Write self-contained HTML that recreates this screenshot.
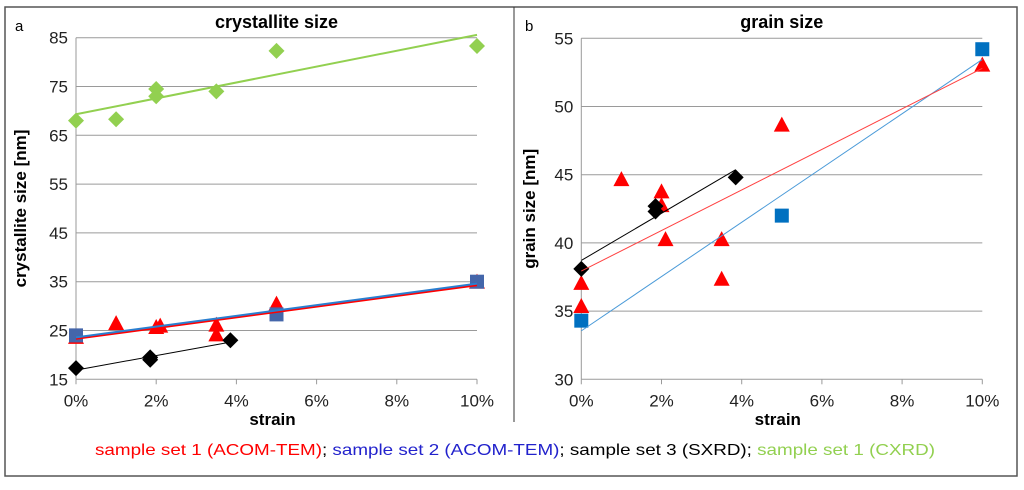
<!DOCTYPE html>
<html><head><meta charset="utf-8"><style>
html,body{margin:0;padding:0;background:#fff;}
svg{display:block;font-family:"Liberation Sans",Arial,sans-serif;}
</style></head><body>
<svg id="fig" width="1024" height="490" viewBox="0 0 1024 490" xmlns="http://www.w3.org/2000/svg">
<rect x="5" y="7" width="1012" height="469" fill="#fff" stroke="#555" stroke-width="1.5"/>
<line x1="514" y1="7" x2="514" y2="422" stroke="#333" stroke-width="1"/>
<g id="chartA"></g>
<g id="chartB"></g>
<text x="515" y="455" text-anchor="middle" font-size="16" textLength="840" lengthAdjust="spacingAndGlyphs"><tspan fill="#ff0000">sample set 1 (ACOM-TEM)</tspan><tspan fill="#000">; </tspan><tspan fill="#2222cc">sample set 2 (ACOM-TEM)</tspan><tspan fill="#000">; sample set 3 (SXRD); </tspan><tspan fill="#92d050">sample set 1 (CXRD)</tspan></text>
</svg>
<script>
// Panel a data (strain in %, size in nm)
const aGreenX=[0,1,2,2,3.5,5,10];
const aGreenY=[68,68.3,73,74.5,74,82.3,83.3];
const aRedX=[0,1,2,2.1,3.5,3.5,5,10];
const aRedY=[23.5,26.3,25.5,25.8,26,24,30.3,34.8];
const aBlueX=[0,5,10];
const aBlueY=[24,28.3,35];
const aBlackX=[0,1.85,1.85,3.85];
const aBlackY=[17.3,19,19.5,23];
// Panel b data
const bBlueX=[0,5,10];
const bBlueY=[34.3,42,54.2];
const bRedX=[0,0,1,2,2,2.1,3.5,3.5,5,10];
const bRedY=[37,35.3,44.6,43.7,42.7,40.2,40.2,37.3,48.6,53];
const bBlackX=[0,1.85,1.85,3.85];
const bBlackY=[38.1,42.3,42.7,44.8];
const xTicks=[0,2,4,6,8,10];
const aYTicks=[15,25,35,45,55,65,75,85];
const bYTicks=[30,35,40,45,50,55];

const NS="http://www.w3.org/2000/svg";
function mk(parent,tag,attrs){const e=document.createElementNS(NS,tag);for(const k in attrs)e.setAttribute(k,attrs[k]);parent.appendChild(e);return e;}
function fit(xs,ys){const n=xs.length;let mx=0,my=0;for(let i=0;i<n;i++){mx+=xs[i];my+=ys[i];}mx/=n;my/=n;let sxy=0,sxx=0;for(let i=0;i<n;i++){sxy+=(xs[i]-mx)*(ys[i]-my);sxx+=(xs[i]-mx)**2;}const s=sxy/sxx;return [s,my-s*mx];}

function chart(g,cfg){
  const X=v=>cfg.x0+(v-0)/10*(cfg.x1-cfg.x0);
  const Y=v=>cfg.yb+(v-cfg.ymin)/(cfg.ymax-cfg.ymin)*(cfg.yt-cfg.yb);
  cfg.yTicks.forEach(t=>{
    const l=mk(g,'line',{x1:X(0),x2:X(10),y1:Y(t),y2:Y(t),stroke:'#9a9a9a','stroke-width':1});
    
    
    const tx=mk(g,'text',{x:X(0)-8,y:Y(t)+6,'text-anchor':'end','font-size':17,fill:'#222'});
    tx.textContent=t;
    
    
  });
  const ax=mk(g,'line',{x1:X(0),x2:X(0),y1:Y(cfg.ymax),y2:Y(cfg.ymin),stroke:'#9a9a9a','stroke-width':1});
  
  
  xTicks.forEach(t=>{
    const l=mk(g,'line',{x1:X(t),x2:X(t),y1:Y(cfg.ymin),y2:Y(cfg.ymin)+5,stroke:'#9a9a9a','stroke-width':1});
    
    
    const tx=mk(g,'text',{x:X(t),y:Y(cfg.ymin)+27,'text-anchor':'middle','font-size':17,fill:'#222'});
    tx.textContent=t+'%';
    
    
  });
  let t=mk(g,'text',{x:(X(0)+X(10))/2,y:28,'text-anchor':'middle','font-size':18,'font-weight':'bold'});t.textContent=cfg.title;
  
  
  t=mk(g,'text',{x:cfg.lx,y:31,'font-size':15});t.textContent=cfg.letter;
  
  
  t=mk(g,'text',{x:(X(0)+X(10))/2-4,y:425,'text-anchor':'middle','font-size':17,'font-weight':'bold'});t.textContent='strain';
  
  
  const cy=(Y(cfg.ymin)+Y(cfg.ymax))/2;
  t=mk(g,'text',{x:cfg.ytx,y:cy,'text-anchor':'middle','font-size':17,'font-weight':'bold',transform:`rotate(-90 ${cfg.ytx} ${cy})`});t.textContent=cfg.ytitle;
  
  
  cfg.series.forEach(s=>{
    s.x.forEach((xv,i)=>{
      const px=X(xv),py=Y(s.y[i]);let m;
      if(s.shape==='diamond')m=mk(g,'polygon',{points:`${px},${py-8} ${px+8},${py} ${px},${py+8} ${px-8},${py}`,fill:s.color});
      else if(s.shape==='tri')m=mk(g,'polygon',{points:`${px},${py-9} ${px+8},${py+6} ${px-8},${py+6}`,fill:s.color});
      else m=mk(g,'rect',{x:px-7,y:py-7,width:14,height:14,fill:s.color});
      
      
    });
  });
  cfg.series.forEach(s=>{
    const [sl,ic]=fit(s.x,s.y);const xmax=Math.max(...s.x);
    const l=mk(g,'line',{x1:X(0),y1:Y(ic),x2:X(xmax),y2:Y(ic+sl*xmax),stroke:s.line,'stroke-width':s.lw});
    
    
  });
}
chart(document.getElementById('chartA'),{x0:76,x1:477,yb:379.3,yt:37.7,ymin:15,ymax:85,yTicks:aYTicks,title:'crystallite size',letter:'a',lx:15,ytitle:'crystallite size [nm]',ytx:26,
 series:[
  {name:'set1-cxrd',x:aGreenX,y:aGreenY,shape:'diamond',color:'#92d050',line:'#92d050',lw:2},
  {name:'set1-acom',x:aRedX,y:aRedY,shape:'tri',color:'#ff0000',line:'#ff0000',lw:2},
  {name:'set2-acom',x:aBlueX,y:aBlueY,shape:'sq',color:'#4466aa',line:'#2a7fd0',lw:2},
  {name:'set3-sxrd',x:aBlackX,y:aBlackY,shape:'diamond',color:'#000',line:'#000',lw:1}
 ]});
chart(document.getElementById('chartB'),{x0:581.3,x1:982.3,yb:379.3,yt:38.3,ymin:30,ymax:55,yTicks:bYTicks,title:'grain size',letter:'b',lx:525,ytitle:'grain size [nm]',ytx:535,
 series:[
  {name:'set2-acom',x:bBlueX,y:bBlueY,shape:'sq',color:'#0070c0',line:'#4a9ad8',lw:1},
  {name:'set1-acom',x:bRedX,y:bRedY,shape:'tri',color:'#ff0000',line:'#ff4040',lw:1},
  {name:'set3-sxrd',x:bBlackX,y:bBlackY,shape:'diamond',color:'#000',line:'#000',lw:1}
 ]});
</script>
</body></html>
